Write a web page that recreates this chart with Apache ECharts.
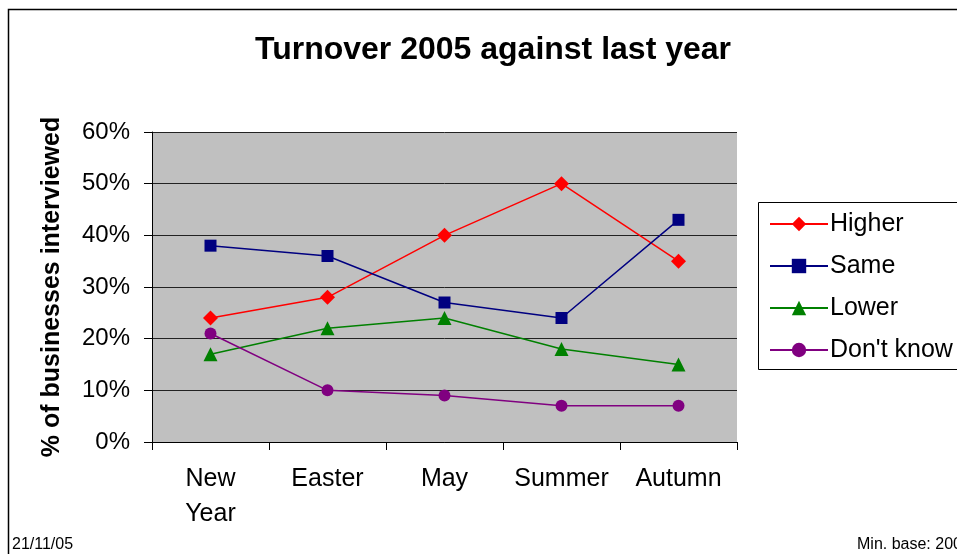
<!DOCTYPE html>
<html><head><meta charset="utf-8">
<script src="https://cdn.jsdelivr.net/npm/echarts@6/dist/echarts.min.js"></script>
<style>html,body{margin:0;padding:0;background:#fff}#c{width:957px;height:554px}</style>
</head><body><div id="c"></div>
<script>
const categories = ['New\nYear', 'Easter', 'May', 'Summer', 'Autumn'];
const higher = [24, 28, 40, 50, 35];
const same = [38, 36, 27, 24, 43];
const lower = [17, 22, 24, 18, 15];
const dontKnow = [21, 10, 9, 7, 7];
const yTicks = { min: 0, max: 60, interval: 10 };

const F = 'Liberation Sans, Arial, sans-serif';
const chart = echarts.init(document.getElementById('c'));
function s(name, data, color, symbol, size) {
  return { name, type: 'line', data, symbol, symbolSize: size,
    lineStyle: { color, width: 1.5 }, itemStyle: { color }, color, animation: false };
}
chart.setOption({
  animation: false,
  textStyle: { fontFamily: F },
  title: { text: 'Turnover 2005 against last year', left: 488, textAlign: 'center', top: 29,
    textStyle: { fontFamily: F, fontSize: 32, fontWeight: 'bold', color: '#000' } },
  grid: { left: 152, top: 132, right: 220, bottom: 112, show: true, backgroundColor: '#C0C0C0', borderWidth: 0 },
  xAxis: { type: 'category', data: categories, boundaryGap: true,
    axisLine: { lineStyle: { color: '#000', width: 1 } },
    axisTick: { show: true, length: 8, lineStyle: { color: '#000' } },
    axisLabel: { color: '#000', fontSize: 25, fontFamily: F, margin: 20, lineHeight: 35, interval: 0 } },
  yAxis: { type: 'value', min: yTicks.min, max: yTicks.max, interval: yTicks.interval,
    name: '% of businesses interviewed', nameLocation: 'middle', nameGap: 87,
    nameTextStyle: { fontFamily: F, fontSize: 25, fontWeight: 'bold', color: '#000' },
    axisLine: { show: true, lineStyle: { color: '#000', width: 1 } },
    axisTick: { show: true, length: 8, lineStyle: { color: '#000' } },
    axisLabel: { color: '#000', fontSize: 24, fontFamily: F, margin: 22, formatter: '{value}%' },
    splitLine: { show: true, lineStyle: { color: '#222', width: 1 } } },
  legend: { orient: 'vertical', left: 764, top: 206, itemWidth: 58, itemHeight: 18, itemGap: 16,
    textStyle: { fontFamily: F, fontSize: 25, color: '#000', lineHeight: 26, padding: [0,0,0,-3] },
    data: ['Higher', 'Same', 'Lower', "Don't know"] },
  graphic: [
    { type: 'rect', shape: { x: 8.5, y: 9.5, width: 1000, height: 600 }, style: { fill: 'none', stroke: '#000', lineWidth: 1.5 }, z: -10 },
    { type: 'rect', shape: { x: 758.5, y: 202.5, width: 400, height: 167 }, style: { fill: '#fff', stroke: '#000', lineWidth: 1 }, z: -5 },
    { type: 'text', left: 12, top: 537, style: { text: '21/11/05', font: '16px ' + F, fill: '#000' } },
    { type: 'text', left: 857, top: 537, style: { text: 'Min. base: 200', font: '16px ' + F, fill: '#000' } }
  ],
  series: [
    s('Higher', higher, '#FF0000', 'diamond', 15),
    s('Same', same, '#000080', 'rect', 12),
    s('Lower', lower, '#008000', 'triangle', 14),
    s("Don't know", dontKnow, '#800080', 'circle', 12)
  ]
});
</script></body></html>
